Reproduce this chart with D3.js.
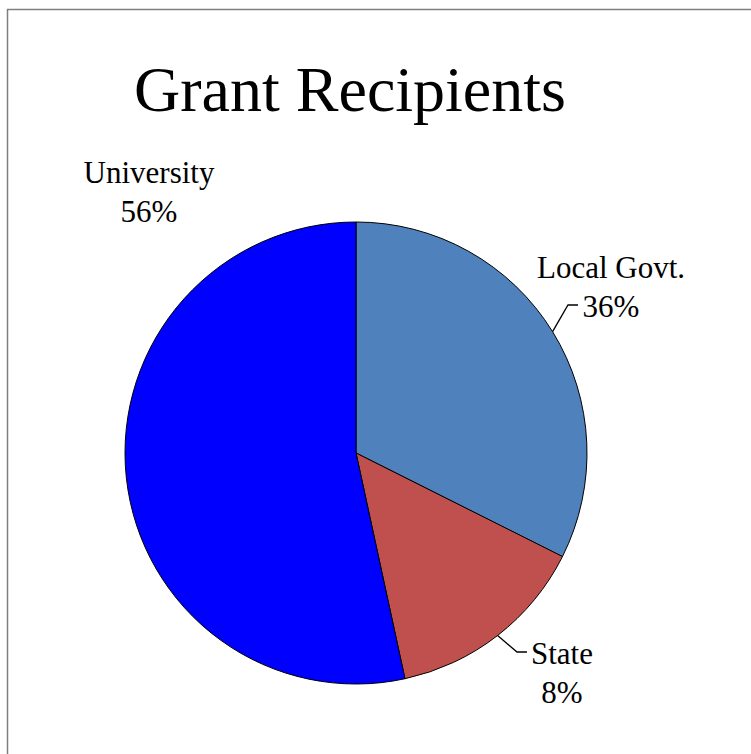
<!DOCTYPE html>
<html>
<head>
<meta charset="utf-8">
<script src="https://cdn.jsdelivr.net/npm/d3@7"></script>
<style>
  body { margin: 0; background: #fff; }
  svg { display: block; }
  text { font-family: "Liberation Serif", "Times New Roman", serif; fill: #000; }
</style>
</head>
<body>
<div id="chart"></div>
<script>
// slices, clockwise from 12 o'clock (share as drawn)
const categories = ['Local Govt.', 'State', 'University'];
const values = [32.4, 14.2, 53.4];
// percentages printed in the labels
const labelPercents = ['36%', '8%', '56%'];
const colors = ['#4F81BD', '#C0504D', '#0000FF'];

const width = 751;
const height = 754;
const cx = 356;
const cy = 453;
const radius = 231;

const svg = d3.select('#chart')
  .append('svg')
  .attr('width', width)
  .attr('height', height);

// chart frame (runs off the right and bottom)
svg.append('rect')
  .attr('x', 7.5)
  .attr('y', 9.5)
  .attr('width', width + 20)
  .attr('height', height + 20)
  .attr('fill', 'none')
  .attr('stroke', '#7f7f7f')
  .attr('stroke-width', 1.5);

// title
svg.append('text')
  .attr('x', 350)
  .attr('y', 111)
  .attr('text-anchor', 'middle')
  .style('font-size', '64px')
  .text('Grant Recipients');

const pie = d3.pie().sort(null).value(d => d);
const arcs = pie(values);

const arc = d3.arc().innerRadius(0).outerRadius(radius);
const edgeArc = d3.arc().innerRadius(radius).outerRadius(radius);

const g = svg.append('g')
  .attr('transform', `translate(${cx},${cy})`);

g.selectAll('path')
  .data(arcs)
  .enter()
  .append('path')
  .attr('d', arc)
  .attr('fill', (d, i) => colors[i])
  .attr('stroke', '#000')
  .attr('stroke-width', 1);

// label placement relative to pie centre (centre of the text block)
const labelOffsets = [
  { dx: 255, dy: -168, leader: true },
  { dx: 206, dy: 218, leader: true },
  { dx: -207, dy: -263, leader: false },
];

arcs.forEach((d, i) => {
  const off = labelOffsets[i];
  const lg = g.append('g');

  lg.append('text')
    .attr('x', off.dx)
    .attr('y', off.dy - 7)
    .attr('text-anchor', 'middle')
    .style('font-size', '31px')
    .text(categories[i]);

  lg.append('text')
    .attr('x', off.dx)
    .attr('y', off.dy + 32)
    .attr('text-anchor', 'middle')
    .style('font-size', '31px')
    .text(labelPercents[i]);

  if (off.leader) {
    const start = edgeArc.centroid(d);
    const right = start[0] > 0;
    // elbow next to the percent / name line
    let elbowY, endX;
    if (i === 0) {
      elbowY = off.dy + 20;
      endX = off.dx - 33;
    } else {
      elbowY = off.dy - 19;
      endX = off.dx - 35;
    }
    const elbowX = endX - 10;
    lg.append('polyline')
      .attr('points', `${start[0]},${start[1]} ${elbowX},${elbowY} ${endX},${elbowY}`)
      .attr('fill', 'none')
      .attr('stroke', '#000')
      .attr('stroke-width', 1.3);
  }
});
</script>
</body>
</html>
